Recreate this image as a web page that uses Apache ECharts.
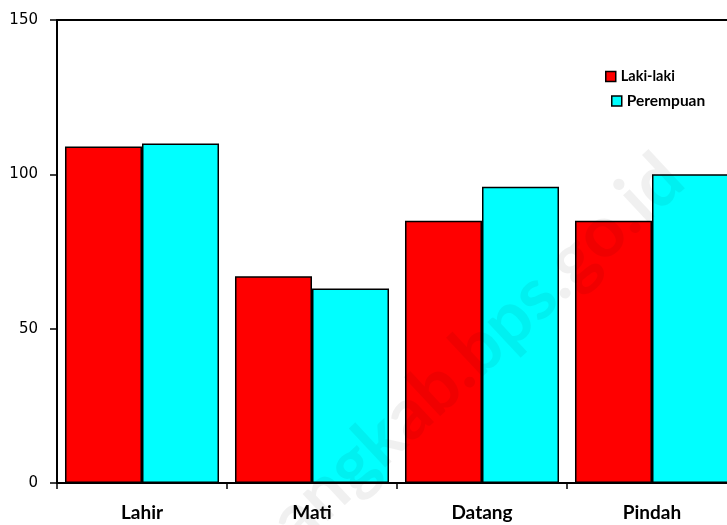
<!DOCTYPE html>
<html>
<head>
<meta charset="utf-8">
<script src="https://cdn.jsdelivr.net/npm/echarts@6/dist/echarts.min.js"></script>
<style>html,body{margin:0;padding:0;background:#fff;}#c{width:727px;height:525px;}</style>
</head>
<body>
<div id="c"></div>
<script>
const categories = ['Lahir', 'Mati', 'Datang', 'Pindah'];
const lakiLaki = [109, 67, 85, 85];
const perempuan = [110, 63, 96, 100];
const yTicks = [0, 50, 100, 150];

const chart = echarts.init(document.getElementById('c'));
const legendText = {fontFamily: 'Lato', fontWeight: 'bold', fontSize: 14.5, color: '#000'};
chart.setOption({
  animation: false,
  backgroundColor: '#fff',
  grid: {left: 57, top: 20, width: 680, height: 463, containLabel: false, outerBoundsMode: 'none'},
  legend: [
    {data: ['Laki-laki'], left: 600, top: 64, orient: 'vertical', itemWidth: 10, itemHeight: 10,
     textStyle: legendText, icon: 'rect', itemStyle: {borderColor: '#000', borderWidth: 1.5}},
    {data: ['Perempuan'], left: 606, top: 88, orient: 'vertical', itemWidth: 10, itemHeight: 10,
     textStyle: Object.assign({}, legendText, {fontSize: 15.5}), icon: 'rect', itemStyle: {borderColor: '#000', borderWidth: 1.5}}
  ],
  graphic: [{
    type: 'text', x: 282, y: 532, rotation: Math.PI * 43 / 180,
    style: {text: 'angkab.bps.go.id', fontSize: 72, fontWeight: 'bold', fontFamily: 'Lato',
            fill: 'rgba(0,0,0,0.06)', textAlign: 'left', textVerticalAlign: 'middle'},
    silent: true, z: 100
  }],
  xAxis: [{
    type: 'category', data: categories, position: 'bottom',
    axisLine: {lineStyle: {color: '#000', width: 2}},
    axisTick: {show: true, length: 6, lineStyle: {color: '#000', width: 1.5}},
    axisLabel: {fontFamily: 'Lato', fontWeight: 'bold', fontSize: 19, color: '#000', margin: 20}
  }, {
    type: 'category', data: categories, position: 'top',
    axisLine: {show: true, lineStyle: {color: '#000', width: 2}},
    axisTick: {show: false}, axisLabel: {show: false}
  }],
  yAxis: {
    type: 'value', min: yTicks[0], max: yTicks[yTicks.length - 1], interval: 50,
    axisLine: {show: true, lineStyle: {color: '#000', width: 2}},
    axisTick: {show: true, length: 7, lineStyle: {color: '#000', width: 1.5}},
    axisLabel: {fontFamily: 'DejaVu Sans', fontSize: 15, color: '#000', margin: 19},
    splitLine: {show: false}
  },
  series: [{
    name: 'Laki-laki', type: 'bar', data: lakiLaki, barGap: '0%', barCategoryGap: '9.4%',
    itemStyle: {color: '#ff0000', borderColor: '#000', borderWidth: 1.5}
  }, {
    name: 'Perempuan', type: 'bar', data: perempuan, barGap: '0%', barCategoryGap: '9.4%',
    itemStyle: {color: '#00ffff', borderColor: '#000', borderWidth: 1.5}
  }]
});
</script>
</body>
</html>
